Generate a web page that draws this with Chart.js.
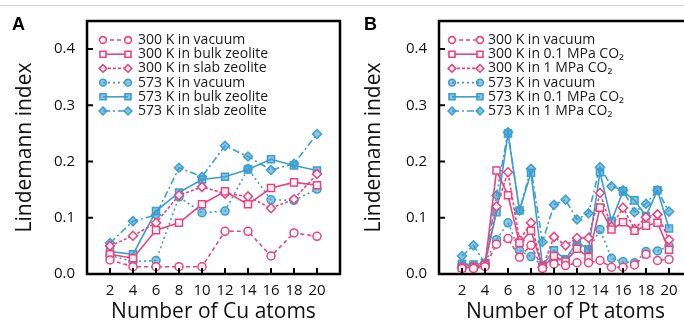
<!DOCTYPE html>
<html>
<head>
<meta charset="utf-8">
<script src="https://cdn.jsdelivr.net/npm/chart.js@4.4.0/dist/chart.umd.min.js"></script>
<style>
  html, body { margin: 0; padding: 0; background: #fff; width: 684px; height: 325px; overflow: hidden; position: relative; }
  #rule { position: absolute; left: 0; top: 5px; width: 684px; height: 1px; background: #d4d4d4; }
  canvas { position: absolute; top: 0; }
  .tag { position: absolute; font: bold 18px 'Liberation Sans', Arial, sans-serif; color: #000; }
</style>
</head>
<body>
<div id="rule"></div>
<canvas id="cuChart" width="350" height="325" style="left:0"></canvas>
<canvas id="ptChart" width="360" height="325" style="left:345px"></canvas>
<div class="tag" style="left:12px;top:14px">A</div>
<div class="tag" style="left:364px;top:14px">B</div>
<script>
const PINK = '#e8457c';
const BLUE = '#3c9fd0';
const BLUE_FILL = 'rgba(60,159,208,0.6)';
const PINK_FILL = 'rgba(255,255,255,0.85)';

// panel A: Cu clusters
const cuAtoms = [2, 4, 6, 8, 10, 12, 14, 16, 18, 20];
const cu300Vac  = [0.025, 0.013, 0.013, 0.013, 0.013, 0.076, 0.076, 0.032, 0.073, 0.067];
const cu300Bulk = [0.035, 0.028, 0.078, 0.091, 0.124, 0.147, 0.124, 0.153, 0.163, 0.158];
const cu300Slab = [0.050, 0.068, 0.091, 0.140, 0.155, 0.143, 0.138, 0.117, 0.133, 0.178];
const cu573Vac  = [0.033, 0.022, 0.024, 0.137, 0.109, 0.112, 0.187, 0.132, 0.131, 0.151];
const cu573Bulk = [0.040, 0.035, 0.112, 0.145, 0.168, 0.173, 0.186, 0.204, 0.193, 0.184];
const cu573Slab = [0.055, 0.094, 0.105, 0.189, 0.173, 0.228, 0.209, 0.185, 0.196, 0.249];
const cuLabels = ['300 K in vacuum', '300 K in bulk zeolite', '300 K in slab zeolite',
                  '573 K in vacuum', '573 K in bulk zeolite', '573 K in slab zeolite'];

// panel B: Pt clusters
const ptAtoms = [2, 3, 4, 5, 6, 7, 8, 9, 10, 11, 12, 13, 14, 15, 16, 17, 18, 19, 20];
const pt300Vac  = [0.010, 0.010, 0.013, 0.053, 0.063, 0.030, 0.051, 0.010, 0.018, 0.015, 0.020, 0.020, 0.024, 0.012, 0.012, 0.016, 0.035, 0.024, 0.026];
const pt300Low  = [0.011, 0.012, 0.016, 0.184, 0.140, 0.055, 0.077, 0.012, 0.032, 0.022, 0.045, 0.030, 0.118, 0.079, 0.092, 0.077, 0.086, 0.091, 0.043];
const pt300High = [0.012, 0.012, 0.015, 0.120, 0.181, 0.060, 0.091, 0.012, 0.066, 0.051, 0.064, 0.064, 0.144, 0.084, 0.118, 0.080, 0.101, 0.106, 0.061];
const pt573Vac  = [0.015, 0.015, 0.019, 0.061, 0.091, 0.042, 0.031, 0.015, 0.026, 0.024, 0.052, 0.042, 0.079, 0.028, 0.022, 0.020, 0.040, 0.041, 0.050];
const pt573Low  = [0.018, 0.017, 0.019, 0.110, 0.250, 0.113, 0.180, 0.015, 0.042, 0.026, 0.057, 0.044, 0.181, 0.094, 0.147, 0.131, 0.103, 0.149, 0.081];
const pt573High = [0.032, 0.051, 0.019, 0.140, 0.252, 0.113, 0.187, 0.057, 0.123, 0.132, 0.097, 0.108, 0.190, 0.156, 0.149, 0.110, 0.125, 0.149, 0.111];
const ptLabels = ['300 K in vacuum', '300 K in 0.1 MPa CO\u2082', '300 K in 1 MPa CO\u2082',
                  '573 K in vacuum', '573 K in 0.1 MPa CO\u2082', '573 K in 1 MPa CO\u2082'];

const xTicks = [2, 4, 6, 8, 10, 12, 14, 16, 18, 20];
const yTicks = [0, 0.1, 0.2, 0.3, 0.4];

const looks = [
  { color: PINK, fill: PINK_FILL, point: 'circle',  radius: 4,   dash: [4, 3] },
  { color: PINK, fill: PINK_FILL, point: 'rect',    radius: 5,   dash: [] },
  { color: PINK, fill: PINK_FILL, point: 'rectRot', radius: 4.5, dash: [3, 2] },
  { color: BLUE, fill: BLUE_FILL, point: 'circle',  radius: 4,   dash: [2, 3] },
  { color: BLUE, fill: BLUE_FILL, point: 'rect',    radius: 5,   dash: [] },
  { color: BLUE, fill: BLUE_FILL, point: 'rectRot', radius: 4.5, dash: [7, 3, 2, 3] },
];

Chart.defaults.font.family = "'Open Sans', 'Noto Sans', sans-serif";
Chart.defaults.color = '#111';

function makeSets(xs, series, labels) {
  return series.map((vals, i) => ({
    label: labels[i],
    data: vals.map((v, j) => ({ x: xs[j], y: v })),
    borderColor: looks[i].color,
    borderWidth: 1.6,
    borderDash: looks[i].dash,
    pointStyle: looks[i].point,
    pointRadius: looks[i].radius,
    pointBorderWidth: 1.5,
    pointBorderColor: looks[i].color,
    pointBackgroundColor: looks[i].fill,
    tension: 0,
  }));
}

// box, inward ticks and the inset legend
const framePlugin = {
  id: 'frame',
  afterDraw(chart) {
    const { ctx, chartArea: a, scales: { x, y } } = chart;
    ctx.save();
    ctx.strokeStyle = '#000';
    ctx.lineWidth = 2.5;
    ctx.setLineDash([]);
    ctx.strokeRect(a.left, a.top, a.right - a.left, a.bottom - a.top);
    ctx.lineWidth = 2;
    ctx.beginPath();
    xTicks.forEach(v => {
      const px = x.getPixelForValue(v);
      ctx.moveTo(px, a.bottom);
      ctx.lineTo(px, a.bottom - 6);
    });
    yTicks.forEach(v => {
      const py = y.getPixelForValue(v);
      ctx.moveTo(a.left, py);
      ctx.lineTo(a.left + 6, py);
    });
    ctx.stroke();

    const lg = chart.options.plugins.frame;
    ctx.font = "14px 'Open Sans', 'Noto Sans', sans-serif";
    ctx.textBaseline = 'middle';
    chart.data.datasets.forEach((ds, i) => {
      const ly = a.top + lg.top + i * lg.gap;
      const x0 = a.left + lg.x0, x1 = a.left + lg.x1;
      ctx.strokeStyle = ds.borderColor;
      ctx.lineWidth = 1.6;
      ctx.setLineDash(ds.borderDash);
      ctx.beginPath();
      ctx.moveTo(x0, ly);
      ctx.lineTo(x1, ly);
      ctx.stroke();
      ctx.setLineDash([]);
      ctx.fillStyle = ds.pointBackgroundColor;
      [x0, x1].forEach(px => Chart.helpers.drawPoint(ctx, {
        pointStyle: ds.pointStyle, radius: ds.pointRadius * 0.85, borderWidth: 1.5, rotation: 0
      }, px, ly));
      ctx.fillStyle = '#1a1a1a';
      ctx.fillText(ds.label, a.left + lg.tx, ly);
    });
    ctx.restore();
  }
};

function makeOptions(xTitle, yWidth, padRight, yTitlePad, legendPos) {
  return {
    responsive: false,
    animation: false,
    devicePixelRatio: 1,
    layout: { padding: { top: 20, right: padRight, left: 0, bottom: 0 } },
    plugins: { legend: { display: false }, tooltip: { enabled: false }, frame: legendPos },
    scales: {
      x: {
        type: 'linear', min: 0, max: 22,
        afterFit: s => { s.height = 51; },
        afterBuildTicks: s => { s.ticks = xTicks.map(v => ({ value: v })); },
        grid: { display: false, drawTicks: false },
        border: { display: false },
        ticks: { autoSkip: false, maxRotation: 0, padding: 8, font: { size: 15 } },
        title: { display: true, text: xTitle, font: { size: 21 }, padding: { top: 0, bottom: 0 } }
      },
      y: {
        min: 0, max: 0.45,
        afterFit: s => { s.width = yWidth; },
        afterBuildTicks: s => { s.ticks = yTicks.map(v => ({ value: v })); },
        grid: { display: false, drawTicks: false },
        border: { display: false },
        ticks: { padding: 12, font: { size: 15 }, callback: v => v.toFixed(1) },
        title: { display: true, text: 'Lindemann index', font: { size: 21 }, padding: { top: yTitlePad, bottom: 0 } }
      }
    }
  };
}

new Chart(document.getElementById('cuChart'), {
  type: 'line',
  data: { datasets: makeSets(cuAtoms, [cu300Vac, cu300Bulk, cu300Slab, cu573Vac, cu573Bulk, cu573Slab], cuLabels) },
  options: makeOptions('Number of Cu atoms', 87, 10, 12, { top: 19, gap: 14.2, x0: 16, x1: 41, tx: 51 }),
  plugins: [framePlugin]
});

new Chart(document.getElementById('ptChart'), {
  type: 'line',
  data: { datasets: makeSets(ptAtoms, [pt300Vac, pt300Low, pt300High, pt573Vac, pt573Low, pt573High], ptLabels) },
  options: makeOptions('Number of Pt atoms', 94, 13, 16, { top: 19, gap: 14.2, x0: 13, x1: 41, tx: 49 }),
  plugins: [framePlugin]
});
</script>
</body>
</html>
